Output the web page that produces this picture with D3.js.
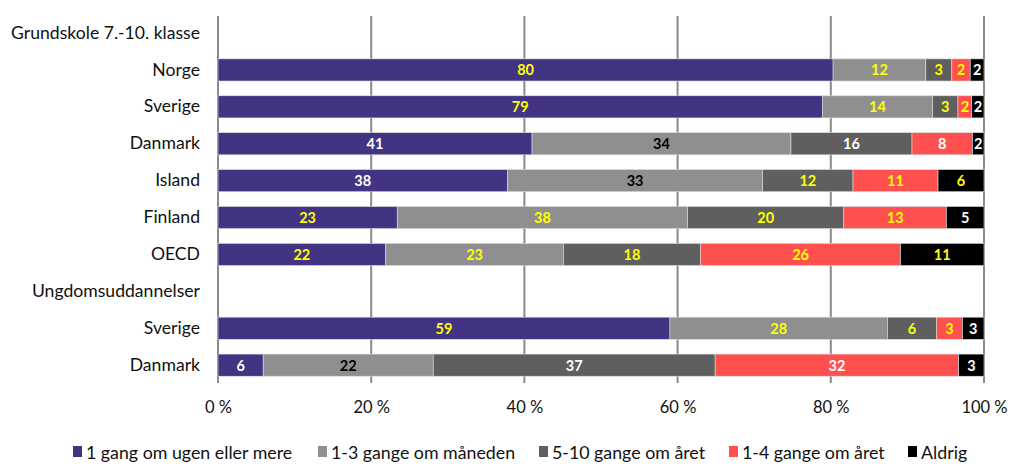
<!DOCTYPE html>
<html><head><meta charset="utf-8">
<script src="https://cdn.jsdelivr.net/npm/d3@7"></script>
<style>body{margin:0;background:#fff}svg{display:block}text{font-family:Lato,"Noto Sans",sans-serif}</style>
</head><body>
<svg id="c" width="1009" height="465"></svg>
<script>
const categories = ["Grundskole 7.-10. klasse","Norge","Sverige","Danmark","Island","Finland","OECD","Ungdomsuddannelser","Sverige ","Danmark "];
const seriesNames = ["1 gang om ugen eller mere","1-3 gange om måneden","5-10 gange om året","1-4 gange om året","Aldrig"];
const seriesColors = ["#423482","#8f8f8f","#5f5f5f","#ff5050","#000000"];
const s1 = [null,80.3,78.9,41.0,37.8,23.4,21.9,null,59.0,5.9];
const s2 = [null,12.1,14.4,33.8,33.3,37.9,23.2,null,28.4,22.2];
const s3 = [null,3.4,3.3,15.8,11.8,20.4,17.9,null,6.4,36.8];
const s4 = [null,2.4,1.8,7.9,11.1,13.4,26.1,null,3.4,31.8];
const s5 = [null,1.8,1.6,1.5,6.0,4.9,10.9,null,2.8,3.3];
const labelColors = [
  null,
  ["#ffff00","#ffff00","#ffff00","#ffff00","#ffffff"],
  ["#ffff00","#ffff00","#ffff00","#ffff00","#ffffff"],
  ["#ffffff","#000000","#ffffff","#ffffff","#ffffff"],
  ["#ffffff","#000000","#ffff00","#ffff00","#ffff00"],
  ["#ffff00","#ffff00","#ffff00","#ffff00","#ffffff"],
  ["#ffff00","#ffff00","#ffff00","#ffff00","#ffff00"],
  null,
  ["#ffff00","#ffff00","#ffff00","#ffff00","#ffffff"],
  ["#ffffff","#000000","#ffffff","#ffffff","#ffffff"]
];
const tickValues = [0,20,40,60,80,100];
const tickLabels = ["0 %","20 %","40 %","60 %","80 %","100 %"];

const series = [s1,s2,s3,s4,s5];
const svg = d3.select("#c");
const x = d3.scaleLinear().domain([0,100]).range([218,984]);
const y = d3.scaleBand().domain(categories).range([14.6,383.6]).paddingInner(0.4).paddingOuter(0.2);

// gridlines
svg.append("g").selectAll("line").data(tickValues).join("line")
  .attr("x1",d=>x(d)).attr("x2",d=>x(d)).attr("y1",16).attr("y2",383)
  .attr("stroke","#8a8a8a").attr("stroke-width",2);

// x tick labels
const xAxis = d3.axisBottom(x).tickValues(tickValues).tickFormat((d,i)=>tickLabels[i]).tickSize(0).tickPadding(0);
const gx = svg.append("g").attr("transform","translate(0,401)").call(xAxis);
gx.select(".domain").remove();
gx.selectAll("text").attr("font-size",16.5).attr("fill","#111").attr("font-family","Lato");

// stacked data
const rows = categories.map((c,i)=>{
  if (s1[i]==null) return [];
  let acc=0;
  return series.map((s,k)=>{const v=s[i]; const r={cat:c,k,v,x0:acc,x1:acc+v,col:labelColors[i][k]}; acc+=v; return r;});
});
const segs = rows.flat();

svg.append("g").selectAll("rect").data(segs).join("rect")
  .attr("x",d=>x(d.x0)).attr("width",d=>x(d.x1)-x(d.x0))
  .attr("y",d=>y(d.cat)).attr("height",y.bandwidth())
  .attr("fill",d=>seriesColors[d.k]).attr("stroke","#dcdcdc").attr("stroke-width",0.6);

svg.append("g").selectAll("text").data(segs).join("text")
  .attr("x",d=>(x(d.x0)+x(d.x1))/2).attr("y",d=>y(d.cat)+y.bandwidth()/2)
  .attr("dy","0.37em").attr("text-anchor","middle")
  .attr("font-size",14.5).attr("font-weight","bold").attr("fill",d=>d.col)
  .text(d=>Math.round(d.v));

// y labels
const yAxis = d3.axisLeft(y).tickSize(0).tickPadding(0);
const gy = svg.append("g").attr("transform","translate(200,0)").call(yAxis);
gy.select(".domain").remove();
gy.selectAll("text").attr("font-size",17.6).attr("fill","#111").attr("font-family","Lato")
  .text(d=>d.trim());

// legend
const legendX = [73,318,539,729,908];
const lg = svg.append("g").selectAll("g").data(seriesNames).join("g")
  .attr("transform",(d,i)=>`translate(${legendX[i]},457)`);
lg.append("rect").attr("x",0).attr("y",-11).attr("width",9).attr("height",11).attr("fill",(d,i)=>seriesColors[i]);
lg.append("text").attr("x",13).attr("y",0).attr("dy","0.1em").attr("font-size",17.8).attr("fill","#111").text(d=>d);
</script>
</body></html>
